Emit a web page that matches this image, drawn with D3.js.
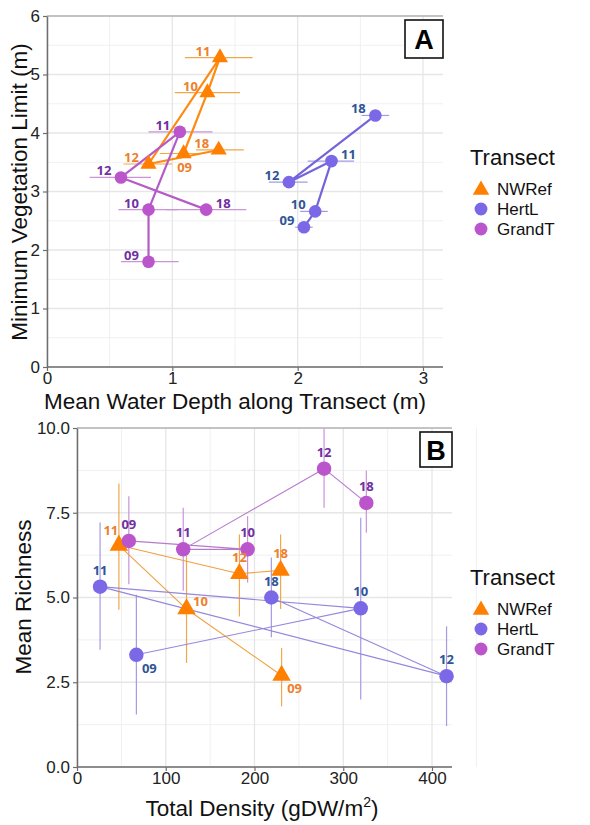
<!DOCTYPE html>
<html>
<head>
<meta charset="utf-8">
<script src="https://cdn.jsdelivr.net/npm/d3@7/dist/d3.min.js"></script>
<style>
  body { margin: 0; background: #fff; }
  svg { display: block; font-family: "Liberation Sans", Arial, sans-serif; }
  .pt-label { font-family: "Open Sans", sans-serif; font-weight: 700; font-size: 13px; }
</style>
</head>
<body>
<svg id="chart" width="590" height="825"></svg>
<script>
// ---------------- data ----------------
var years = ["09", "10", "11", "12", "18"];
var transects = ["NWRef", "HertL", "GrandT"];

// Panel A: mean water depth (x, with range) vs minimum vegetation limit (y)
var depthNWRef   = [1.09, 1.28, 1.38, 0.81, 1.37];
var depthLoNWRef = [0.90, 1.02, 1.10, 0.61, 1.19];
var depthHiNWRef = [1.25, 1.54, 1.64, 1.00, 1.57];
var vegNWRef     = [3.65, 4.69, 5.29, 3.47, 3.71];

var depthHertL   = [2.05, 2.14, 2.27, 1.93, 2.62];
var depthLoHertL = [1.98, 2.02, 2.08, 1.77, 2.51];
var depthHiHertL = [2.12, 2.24, 2.45, 2.08, 2.73];
var vegHertL     = [2.39, 2.66, 3.52, 3.16, 4.30];

var depthGrandT   = [0.81, 0.81, 1.06, 0.59, 1.27];
var depthLoGrandT = [0.59, 0.57, 0.81, 0.34, 0.95];
var depthHiGrandT = [1.05, 1.04, 1.32, 0.83, 1.59];
var vegGrandT     = [1.80, 2.69, 4.02, 3.24, 2.69];

// Panel B: total density (x) vs mean richness (y, with range)
var densNWRef   = [230.5, 123.4, 47.2, 183.0, 229.4];
var richNWRef   = [2.70, 4.66, 6.54, 5.70, 5.80];
var richLoNWRef = [1.79, 3.07, 4.64, 4.44, 4.66];
var richHiNWRef = [3.51, 6.23, 8.36, 6.86, 6.86];

var densHertL   = [66.9, 319.7, 26.0, 416.4, 219.0];
var richHertL   = [3.31, 4.68, 5.32, 2.68, 5.00];
var richLoHertL = [1.55, 1.99, 3.46, 1.21, 3.83];
var richHiHertL = [5.08, 7.35, 7.21, 4.15, 6.18];

var densGrandT   = [58.4, 192.2, 119.7, 278.4, 326.0];
var richGrandT   = [6.67, 6.42, 6.42, 8.80, 7.79];
var richLoGrandT = [5.39, 5.44, 5.20, 7.65, 6.91];
var richHiGrandT = [7.99, 7.40, 7.65, 9.98, 8.75];

var ticksA_x = [0, 1, 2, 3];
var ticksA_y = [0, 1, 2, 3, 4, 5, 6];
var ticksB_x = [0, 100, 200, 300, 400];
var ticksB_y = [0, 2.5, 5, 7.5, 10];

// where the year label sits next to each point
var sideA = { NWRef: ["b","l","l","l","l"], HertL: ["l","l","r","l","l"], GrandT: ["l","l","l","l","r"] };
var sideB = { NWRef: ["br","r","ul","u","u"], HertL: ["br","u","u","u","u"], GrandT: ["u","u","u","u","u"] };

// ---------------- styles ----------------
var fill   = { NWRef: "#ff8000", HertL: "#7b68e6", GrandT: "#bb55cc" };
var lab    = { NWRef: "#ee7f2e", HertL: "#2f5596", GrandT: "#7030a0" };
var lineA  = { NWRef: "#ff8a10", HertL: "#7464dc", GrandT: "#b45cc6" };
var errCol = { NWRef: "#f0a848", HertL: "#a49ae4", GrandT: "#c994d8" };
var lineB  = { NWRef: "#f0a040", HertL: "#9488dc", GrandT: "#b67acb" };

var offA = { l: [-17, -7], r: [17, -7], b: [1, 14] };
var offB = { u: [0, -17], r: [14, -8], br: [13, 13], ul: [-8, -15] };

var svg = d3.select("#chart");

function build(dx, dy, dlo, dhi) {
  return years.map(function(y, i) {
    return { year: y, x: dx[i], y: dy[i], lo: dlo[i], hi: dhi[i] };
  });
}

var seriesA = {
  NWRef:  build(depthNWRef, vegNWRef, depthLoNWRef, depthHiNWRef),
  HertL:  build(depthHertL, vegHertL, depthLoHertL, depthHiHertL),
  GrandT: build(depthGrandT, vegGrandT, depthLoGrandT, depthHiGrandT)
};
var seriesB = {
  NWRef:  build(densNWRef, richNWRef, richLoNWRef, richHiNWRef),
  HertL:  build(densHertL, richHertL, richLoHertL, richHiHertL),
  GrandT: build(densGrandT, richGrandT, richLoGrandT, richHiGrandT)
};

function symbolFor(t, size) {
  return d3.symbol().type(t === "NWRef" ? d3.symbolTriangle : d3.symbolCircle)
    .size(t === "NWRef" ? size * 0.9 : size)();
}

function panel(opt) {
  var g = svg.append("g");
  var x = opt.x, y = opt.y;
  var x0 = x.range()[0], y0 = y.range()[0], y1 = y.range()[1];
  var xr = opt.right;

  // grid: minor + major
  var minX = opt.xt.slice(0, -1).map(function(d, i) { return (d + opt.xt[i + 1]) / 2; });
  var minY = opt.yt.slice(0, -1).map(function(d, i) { return (d + opt.yt[i + 1]) / 2; });
  if (opt.extraMinorX) minX = minX.concat(opt.extraMinorX);
  g.selectAll(".gmx").data(minX).enter().append("line")
    .attr("x1", x).attr("x2", x).attr("y1", y0).attr("y2", y1)
    .attr("stroke", "#f0f0f0").attr("stroke-width", 1);
  g.selectAll(".gmy").data(minY).enter().append("line")
    .attr("x1", x0).attr("x2", xr).attr("y1", y).attr("y2", y)
    .attr("stroke", "#f0f0f0").attr("stroke-width", 1);
  g.selectAll(".gx").data(opt.xt).enter().append("line")
    .attr("x1", x).attr("x2", x).attr("y1", y0).attr("y2", y1)
    .attr("stroke", "#e6e6e6").attr("stroke-width", 1.3);
  g.selectAll(".gy").data(opt.yt).enter().append("line")
    .attr("x1", x0).attr("x2", xr).attr("y1", y).attr("y2", y)
    .attr("stroke", "#e6e6e6").attr("stroke-width", 1.3);

  // top border
  g.append("line").attr("x1", x0).attr("x2", xr).attr("y1", y1).attr("y2", y1)
    .attr("stroke", "#9a9a9a").attr("stroke-width", 1.2);

  // axes
  var ax = g.append("g").attr("transform", "translate(0," + y0 + ")")
    .call(d3.axisBottom(x).tickValues(opt.xt).tickFormat(opt.xf).tickSize(4).tickSizeOuter(0));
  var ay = g.append("g").attr("transform", "translate(" + x0 + ",0)")
    .call(d3.axisLeft(y).tickValues(opt.yt).tickFormat(opt.yf).tickSize(4).tickSizeOuter(0));
  [ax, ay].forEach(function(a) {
    a.select(".domain").attr("stroke", "#6e6e6e").attr("stroke-width", 1.5);
    a.selectAll(".tick line").attr("stroke", "#6e6e6e").attr("stroke-width", 1.2);
    a.selectAll(".tick text").attr("font-family", "Liberation Sans, Arial, sans-serif")
      .attr("font-size", 17).attr("fill", "#222");
  });
  ax.select(".domain").attr("d", "M" + x0 + ",0H" + xr);
  ax.selectAll(".tick text").attr("y", 5).attr("dy", "0.71em");

  var s = opt.series;
  // error bars
  transects.forEach(function(t) {
    g.selectAll(".err" + t).data(s[t]).enter().append("line")
      .attr("x1", function(d) { return opt.errX ? x(d.lo) : x(d.x); })
      .attr("x2", function(d) { return opt.errX ? x(d.hi) : x(d.x); })
      .attr("y1", function(d) { return opt.errX ? y(d.y) : y(d.lo); })
      .attr("y2", function(d) { return opt.errX ? y(d.y) : y(d.hi); })
      .attr("stroke", errCol[t]).attr("stroke-width", opt.errW);
  });
  // paths
  var line = d3.line().x(function(d) { return x(d.x); }).y(function(d) { return y(d.y); });
  transects.forEach(function(t) {
    g.append("path").datum(s[t]).attr("d", line)
      .attr("fill", "none").attr("stroke", opt.lineCol[t])
      .attr("stroke-width", opt.lineW).attr("stroke-linejoin", "round");
  });
  // points
  transects.forEach(function(t) {
    g.selectAll(".pt" + t).data(s[t]).enter().append("path")
      .attr("d", symbolFor(t, opt.ptSize))
      .attr("transform", function(d) { return "translate(" + x(d.x) + "," + y(d.y) + ")"; })
      .attr("fill", fill[t]);
  });
  // year labels
  transects.forEach(function(t) {
    g.selectAll(".lb" + t).data(s[t]).enter().append("text")
      .attr("class", "pt-label")
      .attr("x", function(d, i) { return x(d.x) + opt.off[opt.side[t][i]][0]; })
      .attr("y", function(d, i) { return y(d.y) + opt.off[opt.side[t][i]][1]; })
      .attr("text-anchor", "middle").attr("dominant-baseline", "central")
      .attr("fill", lab[t]).text(function(d) { return d.year; });
  });

  // panel tag box
  var b = opt.tag;
  g.append("rect").attr("x", b.x).attr("y", b.y).attr("width", b.w).attr("height", b.h)
    .attr("fill", "#fff").attr("stroke", "#111").attr("stroke-width", 1.6);
  g.append("text").attr("x", b.x + b.w / 2).attr("y", b.y + b.h / 2 + 1)
    .attr("text-anchor", "middle").attr("dominant-baseline", "central")
    .attr("font-weight", "bold").attr("font-size", 27).text(b.t);

  // axis titles
  g.append("text").attr("transform", "translate(" + opt.yTitle[0] + "," + opt.yTitle[1] + ") rotate(-90)")
    .attr("text-anchor", "middle").attr("font-size", 22.5).attr("fill", "#111").text(opt.yLabel);
  var xt = g.append("text").attr("x", opt.xTitle[0]).attr("y", opt.xTitle[1])
    .attr("text-anchor", "middle").attr("font-size", 22.5).attr("fill", "#111");
  opt.xLabel(xt);

  // legend
  var L = opt.legend;
  g.append("text").attr("x", L.x).attr("y", L.y).attr("font-size", 22).attr("fill", "#111").text("Transect");
  transects.forEach(function(t, i) {
    var yy = L.y + 24 + i * 20;
    g.append("path").attr("d", symbolFor(t, 130)).attr("fill", fill[t])
      .attr("transform", "translate(" + (L.x + 11) + "," + (yy + (t === "NWRef" ? 1 : 0)) + ")");
    g.append("text").attr("x", L.x + 27).attr("y", yy).attr("dominant-baseline", "central")
      .attr("font-size", 17).attr("fill", "#111").text(t);
  });
}

panel({
  x: d3.scaleLinear().domain([0, 3]).range([47, 423]),
  y: d3.scaleLinear().domain([0, 6]).range([367, 16]),
  right: 443,
  xt: ticksA_x, yt: ticksA_y,
  xf: d3.format("d"), yf: d3.format("d"),
  series: seriesA, errX: true, errW: 1.2,
  lineCol: lineA, lineW: 2.2, ptSize: 125,
  side: sideA, off: offA,
  tag: { x: 405, y: 20, w: 38, h: 38, t: "A" },
  yTitle: [27, 192], yLabel: "Minimum Vegetation Limit (m)",
  xTitle: [235, 409], xLabel: function(t) { t.text("Mean Water Depth along Transect (m)"); },
  legend: { x: 470, y: 165 }
});

panel({
  x: d3.scaleLinear().domain([0, 400]).range([77, 432]),
  y: d3.scaleLinear().domain([0, 10]).range([767, 428]),
  right: 452,
  xt: ticksB_x, yt: ticksB_y, extraMinorX: [450],
  xf: d3.format("d"), yf: d3.format(".1f"),
  series: seriesB, errX: false, errW: 1.2,
  lineCol: lineB, lineW: 1.1, ptSize: 165,
  side: sideB, off: offB,
  tag: { x: 420, y: 432, w: 32, h: 35, t: "B" },
  yTitle: [31, 597], yLabel: "Mean Richness",
  xTitle: [262, 816], xLabel: function(t) {
    t.append("tspan").text("Total Density (gDW/m");
    t.append("tspan").attr("font-size", 14).attr("dy", -9).text("2");
    t.append("tspan").attr("dy", 9).text(")");
  },
  legend: { x: 470, y: 585 }
});
</script>
</body>
</html>
